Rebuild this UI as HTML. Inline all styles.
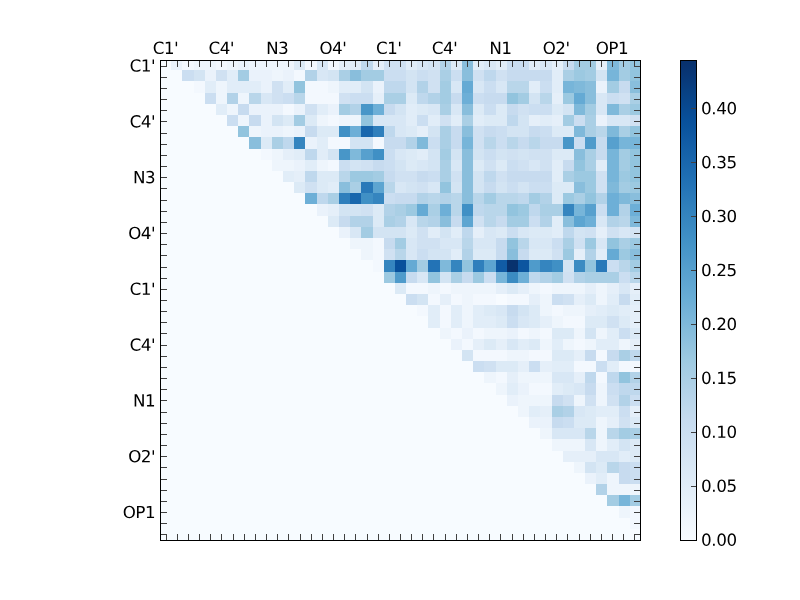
<!DOCTYPE html><html><head><meta charset="utf-8"><style>html,body{margin:0;padding:0;background:#fff;width:800px;height:600px;overflow:hidden;position:relative}</style></head><body><svg width="800" height="600" viewBox="0 0 800 600" style="position:absolute;left:0;top:0"><g shape-rendering="crispEdges"><rect x="160" y="60" width="480" height="480" fill="#f7fbff"/><rect x="171" y="60" width="11" height="10" fill="#eaf2fb"/><rect x="182" y="60" width="12" height="10" fill="#f3f8fe"/><rect x="194" y="60" width="11" height="10" fill="#eef5fc"/><rect x="205" y="60" width="11" height="10" fill="#eef5fc"/><rect x="216" y="60" width="11" height="10" fill="#f3f8fe"/><rect x="227" y="60" width="11" height="10" fill="#eef5fc"/><rect x="238" y="60" width="11" height="10" fill="#eaf2fb"/><rect x="249" y="60" width="12" height="10" fill="#eef5fc"/><rect x="261" y="60" width="11" height="10" fill="#eef5fc"/><rect x="272" y="60" width="11" height="10" fill="#eef5fc"/><rect x="283" y="60" width="11" height="10" fill="#eef5fc"/><rect x="294" y="60" width="11" height="10" fill="#dceaf6"/><rect x="305" y="60" width="12" height="10" fill="#f3f8fe"/><rect x="317" y="60" width="11" height="10" fill="#d8e7f5"/><rect x="328" y="60" width="11" height="10" fill="#f3f8fe"/><rect x="339" y="60" width="11" height="10" fill="#e5eff9"/><rect x="350" y="60" width="11" height="10" fill="#e1edf8"/><rect x="361" y="60" width="12" height="10" fill="#bfd8ed"/><rect x="373" y="60" width="11" height="10" fill="#e5eff9"/><rect x="384" y="60" width="11" height="10" fill="#d0e1f2"/><rect x="395" y="60" width="11" height="10" fill="#d0e1f2"/><rect x="406" y="60" width="11" height="10" fill="#e1edf8"/><rect x="417" y="60" width="11" height="10" fill="#d8e7f5"/><rect x="428" y="60" width="12" height="10" fill="#d3e4f3"/><rect x="440" y="60" width="11" height="10" fill="#b2d2e8"/><rect x="451" y="60" width="11" height="10" fill="#dceaf6"/><rect x="462" y="60" width="11" height="10" fill="#89bedc"/><rect x="473" y="60" width="11" height="10" fill="#e1edf8"/><rect x="484" y="60" width="12" height="10" fill="#d8e7f5"/><rect x="496" y="60" width="11" height="10" fill="#e1edf8"/><rect x="507" y="60" width="11" height="10" fill="#cbdef1"/><rect x="518" y="60" width="11" height="10" fill="#cbdef1"/><rect x="529" y="60" width="11" height="10" fill="#e1edf8"/><rect x="540" y="60" width="12" height="10" fill="#d8e7f5"/><rect x="552" y="60" width="11" height="10" fill="#e5eff9"/><rect x="563" y="60" width="11" height="10" fill="#c7dbef"/><rect x="574" y="60" width="11" height="10" fill="#a3cce3"/><rect x="585" y="60" width="11" height="10" fill="#a3cce3"/><rect x="596" y="60" width="11" height="10" fill="#e5eff9"/><rect x="607" y="60" width="12" height="10" fill="#7fb9da"/><rect x="619" y="60" width="11" height="10" fill="#a3cce3"/><rect x="630" y="60" width="11" height="10" fill="#92c4de"/><rect x="182" y="70" width="12" height="11" fill="#cbdef1"/><rect x="194" y="70" width="11" height="11" fill="#d3e4f3"/><rect x="205" y="70" width="11" height="11" fill="#eaf2fb"/><rect x="216" y="70" width="11" height="11" fill="#d0e1f2"/><rect x="227" y="70" width="11" height="11" fill="#e1edf8"/><rect x="238" y="70" width="11" height="11" fill="#a3cce3"/><rect x="249" y="70" width="12" height="11" fill="#eaf2fb"/><rect x="261" y="70" width="11" height="11" fill="#eaf2fb"/><rect x="272" y="70" width="11" height="11" fill="#eef5fc"/><rect x="283" y="70" width="11" height="11" fill="#eaf2fb"/><rect x="294" y="70" width="11" height="11" fill="#f3f8fe"/><rect x="305" y="70" width="12" height="11" fill="#b2d2e8"/><rect x="317" y="70" width="11" height="11" fill="#d8e7f5"/><rect x="328" y="70" width="11" height="11" fill="#d3e4f3"/><rect x="339" y="70" width="11" height="11" fill="#aacfe5"/><rect x="350" y="70" width="11" height="11" fill="#89bedc"/><rect x="361" y="70" width="12" height="11" fill="#a3cce3"/><rect x="373" y="70" width="11" height="11" fill="#a3cce3"/><rect x="384" y="70" width="11" height="11" fill="#cbdef1"/><rect x="395" y="70" width="11" height="11" fill="#cbdef1"/><rect x="406" y="70" width="11" height="11" fill="#d3e4f3"/><rect x="417" y="70" width="11" height="11" fill="#cbdef1"/><rect x="428" y="70" width="12" height="11" fill="#d0e1f2"/><rect x="440" y="70" width="11" height="11" fill="#aacfe5"/><rect x="451" y="70" width="11" height="11" fill="#cbdef1"/><rect x="462" y="70" width="11" height="11" fill="#89bedc"/><rect x="473" y="70" width="11" height="11" fill="#d0e1f2"/><rect x="484" y="70" width="12" height="11" fill="#bfd8ed"/><rect x="496" y="70" width="11" height="11" fill="#d0e1f2"/><rect x="507" y="70" width="11" height="11" fill="#c7dbef"/><rect x="518" y="70" width="11" height="11" fill="#c7dbef"/><rect x="529" y="70" width="11" height="11" fill="#c7dbef"/><rect x="540" y="70" width="12" height="11" fill="#c7dbef"/><rect x="552" y="70" width="11" height="11" fill="#e1edf8"/><rect x="563" y="70" width="11" height="11" fill="#aacfe5"/><rect x="574" y="70" width="11" height="11" fill="#9cc9e1"/><rect x="585" y="70" width="11" height="11" fill="#a3cce3"/><rect x="596" y="70" width="11" height="11" fill="#d3e4f3"/><rect x="607" y="70" width="12" height="11" fill="#77b5d9"/><rect x="619" y="70" width="11" height="11" fill="#a3cce3"/><rect x="630" y="70" width="11" height="11" fill="#92c4de"/><rect x="194" y="81" width="11" height="12" fill="#f3f8fe"/><rect x="205" y="81" width="11" height="12" fill="#e1edf8"/><rect x="216" y="81" width="11" height="12" fill="#eef5fc"/><rect x="227" y="81" width="11" height="12" fill="#e1edf8"/><rect x="238" y="81" width="11" height="12" fill="#e1edf8"/><rect x="249" y="81" width="12" height="12" fill="#e1edf8"/><rect x="261" y="81" width="11" height="12" fill="#eaf2fb"/><rect x="272" y="81" width="11" height="12" fill="#d0e1f2"/><rect x="283" y="81" width="11" height="12" fill="#e1edf8"/><rect x="294" y="81" width="11" height="12" fill="#92c4de"/><rect x="305" y="81" width="12" height="12" fill="#f3f8fe"/><rect x="317" y="81" width="11" height="12" fill="#f3f8fe"/><rect x="328" y="81" width="11" height="12" fill="#eef5fc"/><rect x="339" y="81" width="11" height="12" fill="#e1edf8"/><rect x="350" y="81" width="11" height="12" fill="#e1edf8"/><rect x="361" y="81" width="12" height="12" fill="#d3e4f3"/><rect x="373" y="81" width="11" height="12" fill="#eaf2fb"/><rect x="384" y="81" width="11" height="12" fill="#bfd8ed"/><rect x="395" y="81" width="11" height="12" fill="#bfd8ed"/><rect x="406" y="81" width="11" height="12" fill="#d3e4f3"/><rect x="417" y="81" width="11" height="12" fill="#b2d2e8"/><rect x="428" y="81" width="12" height="12" fill="#d0e1f2"/><rect x="440" y="81" width="11" height="12" fill="#a3cce3"/><rect x="451" y="81" width="11" height="12" fill="#d8e7f5"/><rect x="462" y="81" width="11" height="12" fill="#65aad4"/><rect x="473" y="81" width="11" height="12" fill="#d8e7f5"/><rect x="484" y="81" width="12" height="12" fill="#cbdef1"/><rect x="496" y="81" width="11" height="12" fill="#d8e7f5"/><rect x="507" y="81" width="11" height="12" fill="#b9d6ea"/><rect x="518" y="81" width="11" height="12" fill="#b9d6ea"/><rect x="529" y="81" width="11" height="12" fill="#e1edf8"/><rect x="540" y="81" width="12" height="12" fill="#cbdef1"/><rect x="552" y="81" width="11" height="12" fill="#e1edf8"/><rect x="563" y="81" width="11" height="12" fill="#77b5d9"/><rect x="574" y="81" width="11" height="12" fill="#7fb9da"/><rect x="585" y="81" width="11" height="12" fill="#89bedc"/><rect x="596" y="81" width="11" height="12" fill="#eaf2fb"/><rect x="607" y="81" width="12" height="12" fill="#a3cce3"/><rect x="619" y="81" width="11" height="12" fill="#c7dbef"/><rect x="630" y="81" width="11" height="12" fill="#89bedc"/><rect x="205" y="93" width="11" height="11" fill="#cbdef1"/><rect x="216" y="93" width="11" height="11" fill="#eef5fc"/><rect x="227" y="93" width="11" height="11" fill="#b2d2e8"/><rect x="238" y="93" width="11" height="11" fill="#eef5fc"/><rect x="249" y="93" width="12" height="11" fill="#b9d6ea"/><rect x="261" y="93" width="11" height="11" fill="#d8e7f5"/><rect x="272" y="93" width="11" height="11" fill="#d0e1f2"/><rect x="283" y="93" width="11" height="11" fill="#cbdef1"/><rect x="294" y="93" width="11" height="11" fill="#b9d6ea"/><rect x="305" y="93" width="12" height="11" fill="#f3f8fe"/><rect x="317" y="93" width="11" height="11" fill="#f3f8fe"/><rect x="328" y="93" width="11" height="11" fill="#f3f8fe"/><rect x="339" y="93" width="11" height="11" fill="#d0e1f2"/><rect x="350" y="93" width="11" height="11" fill="#cbdef1"/><rect x="361" y="93" width="12" height="11" fill="#cbdef1"/><rect x="373" y="93" width="11" height="11" fill="#e5eff9"/><rect x="384" y="93" width="11" height="11" fill="#aacfe5"/><rect x="395" y="93" width="11" height="11" fill="#aacfe5"/><rect x="406" y="93" width="11" height="11" fill="#dceaf6"/><rect x="417" y="93" width="11" height="11" fill="#bfd8ed"/><rect x="428" y="93" width="12" height="11" fill="#b2d2e8"/><rect x="440" y="93" width="11" height="11" fill="#a3cce3"/><rect x="451" y="93" width="11" height="11" fill="#c7dbef"/><rect x="462" y="93" width="11" height="11" fill="#6dafd7"/><rect x="473" y="93" width="11" height="11" fill="#cbdef1"/><rect x="484" y="93" width="12" height="11" fill="#c7dbef"/><rect x="496" y="93" width="11" height="11" fill="#c7dbef"/><rect x="507" y="93" width="11" height="11" fill="#92c4de"/><rect x="518" y="93" width="11" height="11" fill="#a3cce3"/><rect x="529" y="93" width="11" height="11" fill="#d3e4f3"/><rect x="540" y="93" width="12" height="11" fill="#b9d6ea"/><rect x="552" y="93" width="11" height="11" fill="#e5eff9"/><rect x="563" y="93" width="11" height="11" fill="#9cc9e1"/><rect x="574" y="93" width="11" height="11" fill="#65aad4"/><rect x="585" y="93" width="11" height="11" fill="#89bedc"/><rect x="596" y="93" width="11" height="11" fill="#d8e7f5"/><rect x="607" y="93" width="12" height="11" fill="#cbdef1"/><rect x="619" y="93" width="11" height="11" fill="#d0e1f2"/><rect x="630" y="93" width="11" height="11" fill="#aacfe5"/><rect x="216" y="104" width="11" height="11" fill="#e1edf8"/><rect x="227" y="104" width="11" height="11" fill="#eef5fc"/><rect x="238" y="104" width="11" height="11" fill="#c7dbef"/><rect x="249" y="104" width="12" height="11" fill="#eaf2fb"/><rect x="261" y="104" width="11" height="11" fill="#eaf2fb"/><rect x="272" y="104" width="11" height="11" fill="#eaf2fb"/><rect x="283" y="104" width="11" height="11" fill="#f3f8fe"/><rect x="294" y="104" width="11" height="11" fill="#eaf2fb"/><rect x="305" y="104" width="12" height="11" fill="#d0e1f2"/><rect x="317" y="104" width="11" height="11" fill="#e1edf8"/><rect x="328" y="104" width="11" height="11" fill="#eaf2fb"/><rect x="339" y="104" width="11" height="11" fill="#a3cce3"/><rect x="350" y="104" width="11" height="11" fill="#b2d2e8"/><rect x="361" y="104" width="12" height="11" fill="#4896c8"/><rect x="373" y="104" width="11" height="11" fill="#6dafd7"/><rect x="384" y="104" width="11" height="11" fill="#c7dbef"/><rect x="395" y="104" width="11" height="11" fill="#d3e4f3"/><rect x="406" y="104" width="11" height="11" fill="#e1edf8"/><rect x="417" y="104" width="11" height="11" fill="#dceaf6"/><rect x="428" y="104" width="12" height="11" fill="#d8e7f5"/><rect x="440" y="104" width="11" height="11" fill="#aacfe5"/><rect x="451" y="104" width="11" height="11" fill="#d8e7f5"/><rect x="462" y="104" width="11" height="11" fill="#89bedc"/><rect x="473" y="104" width="11" height="11" fill="#dceaf6"/><rect x="484" y="104" width="12" height="11" fill="#cbdef1"/><rect x="496" y="104" width="11" height="11" fill="#dceaf6"/><rect x="507" y="104" width="11" height="11" fill="#c7dbef"/><rect x="518" y="104" width="11" height="11" fill="#d0e1f2"/><rect x="529" y="104" width="11" height="11" fill="#cbdef1"/><rect x="540" y="104" width="12" height="11" fill="#cbdef1"/><rect x="552" y="104" width="11" height="11" fill="#dceaf6"/><rect x="563" y="104" width="11" height="11" fill="#d3e4f3"/><rect x="574" y="104" width="11" height="11" fill="#7fb9da"/><rect x="585" y="104" width="11" height="11" fill="#a3cce3"/><rect x="596" y="104" width="11" height="11" fill="#d8e7f5"/><rect x="607" y="104" width="12" height="11" fill="#7fb9da"/><rect x="619" y="104" width="11" height="11" fill="#aacfe5"/><rect x="630" y="104" width="11" height="11" fill="#9cc9e1"/><rect x="227" y="115" width="11" height="11" fill="#cbdef1"/><rect x="238" y="115" width="11" height="11" fill="#eef5fc"/><rect x="249" y="115" width="12" height="11" fill="#c7dbef"/><rect x="261" y="115" width="11" height="11" fill="#eaf2fb"/><rect x="272" y="115" width="11" height="11" fill="#d3e4f3"/><rect x="283" y="115" width="11" height="11" fill="#dceaf6"/><rect x="294" y="115" width="11" height="11" fill="#a3cce3"/><rect x="305" y="115" width="12" height="11" fill="#dceaf6"/><rect x="317" y="115" width="11" height="11" fill="#eef5fc"/><rect x="328" y="115" width="11" height="11" fill="#f3f8fe"/><rect x="339" y="115" width="11" height="11" fill="#eef5fc"/><rect x="350" y="115" width="11" height="11" fill="#eef5fc"/><rect x="361" y="115" width="12" height="11" fill="#92c4de"/><rect x="373" y="115" width="11" height="11" fill="#d8e7f5"/><rect x="384" y="115" width="11" height="11" fill="#d8e7f5"/><rect x="395" y="115" width="11" height="11" fill="#d8e7f5"/><rect x="406" y="115" width="11" height="11" fill="#e1edf8"/><rect x="417" y="115" width="11" height="11" fill="#cbdef1"/><rect x="428" y="115" width="12" height="11" fill="#e1edf8"/><rect x="440" y="115" width="11" height="11" fill="#d0e1f2"/><rect x="451" y="115" width="11" height="11" fill="#e1edf8"/><rect x="462" y="115" width="11" height="11" fill="#aacfe5"/><rect x="473" y="115" width="11" height="11" fill="#e1edf8"/><rect x="484" y="115" width="12" height="11" fill="#dceaf6"/><rect x="496" y="115" width="11" height="11" fill="#dceaf6"/><rect x="507" y="115" width="11" height="11" fill="#bfd8ed"/><rect x="518" y="115" width="11" height="11" fill="#d3e4f3"/><rect x="529" y="115" width="11" height="11" fill="#e5eff9"/><rect x="540" y="115" width="12" height="11" fill="#e1edf8"/><rect x="552" y="115" width="11" height="11" fill="#e5eff9"/><rect x="563" y="115" width="11" height="11" fill="#a3cce3"/><rect x="574" y="115" width="11" height="11" fill="#cbdef1"/><rect x="585" y="115" width="11" height="11" fill="#aacfe5"/><rect x="596" y="115" width="11" height="11" fill="#eaf2fb"/><rect x="607" y="115" width="12" height="11" fill="#d8e7f5"/><rect x="619" y="115" width="11" height="11" fill="#d8e7f5"/><rect x="630" y="115" width="11" height="11" fill="#d0e1f2"/><rect x="238" y="126" width="11" height="11" fill="#92c4de"/><rect x="249" y="126" width="12" height="11" fill="#eef5fc"/><rect x="261" y="126" width="11" height="11" fill="#eaf2fb"/><rect x="272" y="126" width="11" height="11" fill="#eaf2fb"/><rect x="283" y="126" width="11" height="11" fill="#eef5fc"/><rect x="294" y="126" width="11" height="11" fill="#eaf2fb"/><rect x="305" y="126" width="12" height="11" fill="#c7dbef"/><rect x="317" y="126" width="11" height="11" fill="#dceaf6"/><rect x="328" y="126" width="11" height="11" fill="#dceaf6"/><rect x="339" y="126" width="11" height="11" fill="#4090c5"/><rect x="350" y="126" width="11" height="11" fill="#6dafd7"/><rect x="361" y="126" width="12" height="11" fill="#1967ad"/><rect x="373" y="126" width="11" height="11" fill="#2f7fbc"/><rect x="384" y="126" width="11" height="11" fill="#bfd8ed"/><rect x="395" y="126" width="11" height="11" fill="#d8e7f5"/><rect x="406" y="126" width="11" height="11" fill="#dceaf6"/><rect x="417" y="126" width="11" height="11" fill="#e5eff9"/><rect x="428" y="126" width="12" height="11" fill="#d3e4f3"/><rect x="440" y="126" width="11" height="11" fill="#aacfe5"/><rect x="451" y="126" width="11" height="11" fill="#c7dbef"/><rect x="462" y="126" width="11" height="11" fill="#89bedc"/><rect x="473" y="126" width="11" height="11" fill="#d0e1f2"/><rect x="484" y="126" width="12" height="11" fill="#c7dbef"/><rect x="496" y="126" width="11" height="11" fill="#cbdef1"/><rect x="507" y="126" width="11" height="11" fill="#d3e4f3"/><rect x="518" y="126" width="11" height="11" fill="#d3e4f3"/><rect x="529" y="126" width="11" height="11" fill="#c7dbef"/><rect x="540" y="126" width="12" height="11" fill="#cbdef1"/><rect x="552" y="126" width="11" height="11" fill="#dceaf6"/><rect x="563" y="126" width="11" height="11" fill="#dceaf6"/><rect x="574" y="126" width="11" height="11" fill="#7fb9da"/><rect x="585" y="126" width="11" height="11" fill="#aacfe5"/><rect x="596" y="126" width="11" height="11" fill="#b9d6ea"/><rect x="607" y="126" width="12" height="11" fill="#7fb9da"/><rect x="619" y="126" width="11" height="11" fill="#aacfe5"/><rect x="630" y="126" width="11" height="11" fill="#92c4de"/><rect x="249" y="137" width="12" height="12" fill="#89bedc"/><rect x="261" y="137" width="11" height="12" fill="#dceaf6"/><rect x="272" y="137" width="11" height="12" fill="#aacfe5"/><rect x="283" y="137" width="11" height="12" fill="#bfd8ed"/><rect x="294" y="137" width="11" height="12" fill="#3585bf"/><rect x="305" y="137" width="12" height="12" fill="#eaf2fb"/><rect x="317" y="137" width="11" height="12" fill="#e1edf8"/><rect x="328" y="137" width="11" height="12" fill="#f3f8fe"/><rect x="339" y="137" width="11" height="12" fill="#f3f8fe"/><rect x="350" y="137" width="11" height="12" fill="#d3e4f3"/><rect x="361" y="137" width="12" height="12" fill="#d3e4f3"/><rect x="373" y="137" width="11" height="12" fill="#f3f8fe"/><rect x="384" y="137" width="11" height="12" fill="#c7dbef"/><rect x="395" y="137" width="11" height="12" fill="#c7dbef"/><rect x="406" y="137" width="11" height="12" fill="#b2d2e8"/><rect x="417" y="137" width="11" height="12" fill="#7fb9da"/><rect x="428" y="137" width="12" height="12" fill="#cbdef1"/><rect x="440" y="137" width="11" height="12" fill="#aacfe5"/><rect x="451" y="137" width="11" height="12" fill="#c7dbef"/><rect x="462" y="137" width="11" height="12" fill="#77b5d9"/><rect x="473" y="137" width="11" height="12" fill="#d0e1f2"/><rect x="484" y="137" width="12" height="12" fill="#b9d6ea"/><rect x="496" y="137" width="11" height="12" fill="#cbdef1"/><rect x="507" y="137" width="11" height="12" fill="#b9d6ea"/><rect x="518" y="137" width="11" height="12" fill="#c7dbef"/><rect x="529" y="137" width="11" height="12" fill="#b9d6ea"/><rect x="540" y="137" width="12" height="12" fill="#c7dbef"/><rect x="552" y="137" width="11" height="12" fill="#c7dbef"/><rect x="563" y="137" width="11" height="12" fill="#4896c8"/><rect x="574" y="137" width="11" height="12" fill="#cbdef1"/><rect x="585" y="137" width="11" height="12" fill="#4f9bcb"/><rect x="596" y="137" width="11" height="12" fill="#c7dbef"/><rect x="607" y="137" width="12" height="12" fill="#57a0ce"/><rect x="619" y="137" width="11" height="12" fill="#77b5d9"/><rect x="630" y="137" width="11" height="12" fill="#77b5d9"/><rect x="261" y="149" width="11" height="11" fill="#f3f8fe"/><rect x="272" y="149" width="11" height="11" fill="#eef5fc"/><rect x="283" y="149" width="11" height="11" fill="#e5eff9"/><rect x="294" y="149" width="11" height="11" fill="#e1edf8"/><rect x="305" y="149" width="12" height="11" fill="#bfd8ed"/><rect x="317" y="149" width="11" height="11" fill="#e1edf8"/><rect x="328" y="149" width="11" height="11" fill="#d3e4f3"/><rect x="339" y="149" width="11" height="11" fill="#4896c8"/><rect x="350" y="149" width="11" height="11" fill="#7fb9da"/><rect x="361" y="149" width="12" height="11" fill="#57a0ce"/><rect x="373" y="149" width="11" height="11" fill="#4090c5"/><rect x="384" y="149" width="11" height="11" fill="#cbdef1"/><rect x="395" y="149" width="11" height="11" fill="#d8e7f5"/><rect x="406" y="149" width="11" height="11" fill="#dceaf6"/><rect x="417" y="149" width="11" height="11" fill="#e1edf8"/><rect x="428" y="149" width="12" height="11" fill="#d3e4f3"/><rect x="440" y="149" width="11" height="11" fill="#a3cce3"/><rect x="451" y="149" width="11" height="11" fill="#d3e4f3"/><rect x="462" y="149" width="11" height="11" fill="#89bedc"/><rect x="473" y="149" width="11" height="11" fill="#d3e4f3"/><rect x="484" y="149" width="12" height="11" fill="#cbdef1"/><rect x="496" y="149" width="11" height="11" fill="#d3e4f3"/><rect x="507" y="149" width="11" height="11" fill="#d0e1f2"/><rect x="518" y="149" width="11" height="11" fill="#d3e4f3"/><rect x="529" y="149" width="11" height="11" fill="#d0e1f2"/><rect x="540" y="149" width="12" height="11" fill="#d0e1f2"/><rect x="552" y="149" width="11" height="11" fill="#dceaf6"/><rect x="563" y="149" width="11" height="11" fill="#dceaf6"/><rect x="574" y="149" width="11" height="11" fill="#89bedc"/><rect x="585" y="149" width="11" height="11" fill="#aacfe5"/><rect x="596" y="149" width="11" height="11" fill="#c7dbef"/><rect x="607" y="149" width="12" height="11" fill="#77b5d9"/><rect x="619" y="149" width="11" height="11" fill="#a3cce3"/><rect x="630" y="149" width="11" height="11" fill="#92c4de"/><rect x="272" y="160" width="11" height="11" fill="#eef5fc"/><rect x="283" y="160" width="11" height="11" fill="#eef5fc"/><rect x="294" y="160" width="11" height="11" fill="#eaf2fb"/><rect x="305" y="160" width="12" height="11" fill="#e1edf8"/><rect x="317" y="160" width="11" height="11" fill="#eef5fc"/><rect x="328" y="160" width="11" height="11" fill="#f3f8fe"/><rect x="339" y="160" width="11" height="11" fill="#cbdef1"/><rect x="350" y="160" width="11" height="11" fill="#d3e4f3"/><rect x="361" y="160" width="12" height="11" fill="#d0e1f2"/><rect x="373" y="160" width="11" height="11" fill="#c7dbef"/><rect x="384" y="160" width="11" height="11" fill="#cbdef1"/><rect x="395" y="160" width="11" height="11" fill="#d3e4f3"/><rect x="406" y="160" width="11" height="11" fill="#dceaf6"/><rect x="417" y="160" width="11" height="11" fill="#d8e7f5"/><rect x="428" y="160" width="12" height="11" fill="#d3e4f3"/><rect x="440" y="160" width="11" height="11" fill="#aacfe5"/><rect x="451" y="160" width="11" height="11" fill="#d8e7f5"/><rect x="462" y="160" width="11" height="11" fill="#89bedc"/><rect x="473" y="160" width="11" height="11" fill="#dceaf6"/><rect x="484" y="160" width="12" height="11" fill="#d0e1f2"/><rect x="496" y="160" width="11" height="11" fill="#dceaf6"/><rect x="507" y="160" width="11" height="11" fill="#cbdef1"/><rect x="518" y="160" width="11" height="11" fill="#d0e1f2"/><rect x="529" y="160" width="11" height="11" fill="#d8e7f5"/><rect x="540" y="160" width="12" height="11" fill="#d0e1f2"/><rect x="552" y="160" width="11" height="11" fill="#e1edf8"/><rect x="563" y="160" width="11" height="11" fill="#c7dbef"/><rect x="574" y="160" width="11" height="11" fill="#92c4de"/><rect x="585" y="160" width="11" height="11" fill="#aacfe5"/><rect x="596" y="160" width="11" height="11" fill="#e1edf8"/><rect x="607" y="160" width="12" height="11" fill="#77b5d9"/><rect x="619" y="160" width="11" height="11" fill="#a3cce3"/><rect x="630" y="160" width="11" height="11" fill="#92c4de"/><rect x="283" y="171" width="11" height="11" fill="#e1edf8"/><rect x="294" y="171" width="11" height="11" fill="#e5eff9"/><rect x="305" y="171" width="12" height="11" fill="#bfd8ed"/><rect x="317" y="171" width="11" height="11" fill="#dceaf6"/><rect x="328" y="171" width="11" height="11" fill="#dceaf6"/><rect x="339" y="171" width="11" height="11" fill="#b9d6ea"/><rect x="350" y="171" width="11" height="11" fill="#9cc9e1"/><rect x="361" y="171" width="12" height="11" fill="#9cc9e1"/><rect x="373" y="171" width="11" height="11" fill="#a3cce3"/><rect x="384" y="171" width="11" height="11" fill="#c7dbef"/><rect x="395" y="171" width="11" height="11" fill="#d0e1f2"/><rect x="406" y="171" width="11" height="11" fill="#d0e1f2"/><rect x="417" y="171" width="11" height="11" fill="#c7dbef"/><rect x="428" y="171" width="12" height="11" fill="#cbdef1"/><rect x="440" y="171" width="11" height="11" fill="#aacfe5"/><rect x="451" y="171" width="11" height="11" fill="#d0e1f2"/><rect x="462" y="171" width="11" height="11" fill="#89bedc"/><rect x="473" y="171" width="11" height="11" fill="#d3e4f3"/><rect x="484" y="171" width="12" height="11" fill="#bfd8ed"/><rect x="496" y="171" width="11" height="11" fill="#d0e1f2"/><rect x="507" y="171" width="11" height="11" fill="#c7dbef"/><rect x="518" y="171" width="11" height="11" fill="#c7dbef"/><rect x="529" y="171" width="11" height="11" fill="#c7dbef"/><rect x="540" y="171" width="12" height="11" fill="#c7dbef"/><rect x="552" y="171" width="11" height="11" fill="#e1edf8"/><rect x="563" y="171" width="11" height="11" fill="#aacfe5"/><rect x="574" y="171" width="11" height="11" fill="#9cc9e1"/><rect x="585" y="171" width="11" height="11" fill="#9cc9e1"/><rect x="596" y="171" width="11" height="11" fill="#d0e1f2"/><rect x="607" y="171" width="12" height="11" fill="#77b5d9"/><rect x="619" y="171" width="11" height="11" fill="#9cc9e1"/><rect x="630" y="171" width="11" height="11" fill="#92c4de"/><rect x="294" y="182" width="11" height="11" fill="#dceaf6"/><rect x="305" y="182" width="12" height="11" fill="#d0e1f2"/><rect x="317" y="182" width="11" height="11" fill="#dceaf6"/><rect x="328" y="182" width="11" height="11" fill="#e1edf8"/><rect x="339" y="182" width="11" height="11" fill="#89bedc"/><rect x="350" y="182" width="11" height="11" fill="#aacfe5"/><rect x="361" y="182" width="12" height="11" fill="#2979b9"/><rect x="373" y="182" width="11" height="11" fill="#5da5d1"/><rect x="384" y="182" width="11" height="11" fill="#b9d6ea"/><rect x="395" y="182" width="11" height="11" fill="#d8e7f5"/><rect x="406" y="182" width="11" height="11" fill="#d3e4f3"/><rect x="417" y="182" width="11" height="11" fill="#d0e1f2"/><rect x="428" y="182" width="12" height="11" fill="#d8e7f5"/><rect x="440" y="182" width="11" height="11" fill="#92c4de"/><rect x="451" y="182" width="11" height="11" fill="#d3e4f3"/><rect x="462" y="182" width="11" height="11" fill="#89bedc"/><rect x="473" y="182" width="11" height="11" fill="#d3e4f3"/><rect x="484" y="182" width="12" height="11" fill="#c7dbef"/><rect x="496" y="182" width="11" height="11" fill="#d3e4f3"/><rect x="507" y="182" width="11" height="11" fill="#cbdef1"/><rect x="518" y="182" width="11" height="11" fill="#d3e4f3"/><rect x="529" y="182" width="11" height="11" fill="#cbdef1"/><rect x="540" y="182" width="12" height="11" fill="#cbdef1"/><rect x="552" y="182" width="11" height="11" fill="#dceaf6"/><rect x="563" y="182" width="11" height="11" fill="#dceaf6"/><rect x="574" y="182" width="11" height="11" fill="#89bedc"/><rect x="585" y="182" width="11" height="11" fill="#9cc9e1"/><rect x="596" y="182" width="11" height="11" fill="#d0e1f2"/><rect x="607" y="182" width="12" height="11" fill="#7fb9da"/><rect x="619" y="182" width="11" height="11" fill="#a3cce3"/><rect x="630" y="182" width="11" height="11" fill="#9cc9e1"/><rect x="305" y="193" width="12" height="11" fill="#6dafd7"/><rect x="317" y="193" width="11" height="11" fill="#bfd8ed"/><rect x="328" y="193" width="11" height="11" fill="#aacfe5"/><rect x="339" y="193" width="11" height="11" fill="#2f7fbc"/><rect x="350" y="193" width="11" height="11" fill="#1967ad"/><rect x="361" y="193" width="12" height="11" fill="#4090c5"/><rect x="373" y="193" width="11" height="11" fill="#3585bf"/><rect x="384" y="193" width="11" height="11" fill="#cbdef1"/><rect x="395" y="193" width="11" height="11" fill="#c7dbef"/><rect x="406" y="193" width="11" height="11" fill="#c7dbef"/><rect x="417" y="193" width="11" height="11" fill="#b2d2e8"/><rect x="428" y="193" width="12" height="11" fill="#b9d6ea"/><rect x="440" y="193" width="11" height="11" fill="#b2d2e8"/><rect x="451" y="193" width="11" height="11" fill="#b9d6ea"/><rect x="462" y="193" width="11" height="11" fill="#89bedc"/><rect x="473" y="193" width="11" height="11" fill="#b9d6ea"/><rect x="484" y="193" width="12" height="11" fill="#a3cce3"/><rect x="496" y="193" width="11" height="11" fill="#b9d6ea"/><rect x="507" y="193" width="11" height="11" fill="#b9d6ea"/><rect x="518" y="193" width="11" height="11" fill="#bfd8ed"/><rect x="529" y="193" width="11" height="11" fill="#a3cce3"/><rect x="540" y="193" width="12" height="11" fill="#b2d2e8"/><rect x="552" y="193" width="11" height="11" fill="#dceaf6"/><rect x="563" y="193" width="11" height="11" fill="#9cc9e1"/><rect x="574" y="193" width="11" height="11" fill="#aacfe5"/><rect x="585" y="193" width="11" height="11" fill="#92c4de"/><rect x="596" y="193" width="11" height="11" fill="#b2d2e8"/><rect x="607" y="193" width="12" height="11" fill="#6dafd7"/><rect x="619" y="193" width="11" height="11" fill="#7fb9da"/><rect x="630" y="193" width="11" height="11" fill="#89bedc"/><rect x="317" y="204" width="11" height="12" fill="#eaf2fb"/><rect x="328" y="204" width="11" height="12" fill="#e5eff9"/><rect x="339" y="204" width="11" height="12" fill="#d3e4f3"/><rect x="350" y="204" width="11" height="12" fill="#d3e4f3"/><rect x="361" y="204" width="12" height="12" fill="#d0e1f2"/><rect x="373" y="204" width="11" height="12" fill="#dceaf6"/><rect x="384" y="204" width="11" height="12" fill="#b2d2e8"/><rect x="395" y="204" width="11" height="12" fill="#aacfe5"/><rect x="406" y="204" width="11" height="12" fill="#9cc9e1"/><rect x="417" y="204" width="11" height="12" fill="#65aad4"/><rect x="428" y="204" width="12" height="12" fill="#aacfe5"/><rect x="440" y="204" width="11" height="12" fill="#6dafd7"/><rect x="451" y="204" width="11" height="12" fill="#b9d6ea"/><rect x="462" y="204" width="11" height="12" fill="#4090c5"/><rect x="473" y="204" width="11" height="12" fill="#bfd8ed"/><rect x="484" y="204" width="12" height="12" fill="#b9d6ea"/><rect x="496" y="204" width="11" height="12" fill="#b9d6ea"/><rect x="507" y="204" width="11" height="12" fill="#92c4de"/><rect x="518" y="204" width="11" height="12" fill="#9cc9e1"/><rect x="529" y="204" width="11" height="12" fill="#bfd8ed"/><rect x="540" y="204" width="12" height="12" fill="#aacfe5"/><rect x="552" y="204" width="11" height="12" fill="#aacfe5"/><rect x="563" y="204" width="11" height="12" fill="#3585bf"/><rect x="574" y="204" width="11" height="12" fill="#77b5d9"/><rect x="585" y="204" width="11" height="12" fill="#57a0ce"/><rect x="596" y="204" width="11" height="12" fill="#cbdef1"/><rect x="607" y="204" width="12" height="12" fill="#6dafd7"/><rect x="619" y="204" width="11" height="12" fill="#b2d2e8"/><rect x="630" y="204" width="11" height="12" fill="#6dafd7"/><rect x="328" y="216" width="11" height="11" fill="#dceaf6"/><rect x="339" y="216" width="11" height="11" fill="#c7dbef"/><rect x="350" y="216" width="11" height="11" fill="#b2d2e8"/><rect x="361" y="216" width="12" height="11" fill="#b2d2e8"/><rect x="373" y="216" width="11" height="11" fill="#dceaf6"/><rect x="384" y="216" width="11" height="11" fill="#aacfe5"/><rect x="395" y="216" width="11" height="11" fill="#b2d2e8"/><rect x="406" y="216" width="11" height="11" fill="#d8e7f5"/><rect x="417" y="216" width="11" height="11" fill="#b9d6ea"/><rect x="428" y="216" width="12" height="11" fill="#b2d2e8"/><rect x="440" y="216" width="11" height="11" fill="#89bedc"/><rect x="451" y="216" width="11" height="11" fill="#c7dbef"/><rect x="462" y="216" width="11" height="11" fill="#5da5d1"/><rect x="473" y="216" width="11" height="11" fill="#d0e1f2"/><rect x="484" y="216" width="12" height="11" fill="#b9d6ea"/><rect x="496" y="216" width="11" height="11" fill="#c7dbef"/><rect x="507" y="216" width="11" height="11" fill="#a3cce3"/><rect x="518" y="216" width="11" height="11" fill="#a3cce3"/><rect x="529" y="216" width="11" height="11" fill="#cbdef1"/><rect x="540" y="216" width="12" height="11" fill="#b2d2e8"/><rect x="552" y="216" width="11" height="11" fill="#e1edf8"/><rect x="563" y="216" width="11" height="11" fill="#89bedc"/><rect x="574" y="216" width="11" height="11" fill="#5da5d1"/><rect x="585" y="216" width="11" height="11" fill="#6dafd7"/><rect x="596" y="216" width="11" height="11" fill="#d8e7f5"/><rect x="607" y="216" width="12" height="11" fill="#b2d2e8"/><rect x="619" y="216" width="11" height="11" fill="#b9d6ea"/><rect x="630" y="216" width="11" height="11" fill="#7fb9da"/><rect x="339" y="227" width="11" height="11" fill="#eaf2fb"/><rect x="350" y="227" width="11" height="11" fill="#d8e7f5"/><rect x="361" y="227" width="12" height="11" fill="#a3cce3"/><rect x="373" y="227" width="11" height="11" fill="#d3e4f3"/><rect x="384" y="227" width="11" height="11" fill="#d3e4f3"/><rect x="395" y="227" width="11" height="11" fill="#d3e4f3"/><rect x="406" y="227" width="11" height="11" fill="#dceaf6"/><rect x="417" y="227" width="11" height="11" fill="#d0e1f2"/><rect x="428" y="227" width="12" height="11" fill="#e1edf8"/><rect x="440" y="227" width="11" height="11" fill="#d3e4f3"/><rect x="451" y="227" width="11" height="11" fill="#e1edf8"/><rect x="462" y="227" width="11" height="11" fill="#bfd8ed"/><rect x="473" y="227" width="11" height="11" fill="#e5eff9"/><rect x="484" y="227" width="12" height="11" fill="#d8e7f5"/><rect x="496" y="227" width="11" height="11" fill="#dceaf6"/><rect x="507" y="227" width="11" height="11" fill="#cbdef1"/><rect x="518" y="227" width="11" height="11" fill="#d8e7f5"/><rect x="529" y="227" width="11" height="11" fill="#dceaf6"/><rect x="540" y="227" width="12" height="11" fill="#dceaf6"/><rect x="552" y="227" width="11" height="11" fill="#e1edf8"/><rect x="563" y="227" width="11" height="11" fill="#bfd8ed"/><rect x="574" y="227" width="11" height="11" fill="#d3e4f3"/><rect x="585" y="227" width="11" height="11" fill="#d0e1f2"/><rect x="596" y="227" width="11" height="11" fill="#e5eff9"/><rect x="607" y="227" width="12" height="11" fill="#d0e1f2"/><rect x="619" y="227" width="11" height="11" fill="#d8e7f5"/><rect x="630" y="227" width="11" height="11" fill="#d3e4f3"/><rect x="350" y="238" width="11" height="11" fill="#eef5fc"/><rect x="361" y="238" width="12" height="11" fill="#eef5fc"/><rect x="373" y="238" width="11" height="11" fill="#f3f8fe"/><rect x="384" y="238" width="11" height="11" fill="#c7dbef"/><rect x="395" y="238" width="11" height="11" fill="#a3cce3"/><rect x="406" y="238" width="11" height="11" fill="#d8e7f5"/><rect x="417" y="238" width="11" height="11" fill="#d0e1f2"/><rect x="428" y="238" width="12" height="11" fill="#d0e1f2"/><rect x="440" y="238" width="11" height="11" fill="#d8e7f5"/><rect x="451" y="238" width="11" height="11" fill="#d8e7f5"/><rect x="462" y="238" width="11" height="11" fill="#b9d6ea"/><rect x="473" y="238" width="11" height="11" fill="#d8e7f5"/><rect x="484" y="238" width="12" height="11" fill="#d8e7f5"/><rect x="496" y="238" width="11" height="11" fill="#c7dbef"/><rect x="507" y="238" width="11" height="11" fill="#92c4de"/><rect x="518" y="238" width="11" height="11" fill="#b9d6ea"/><rect x="529" y="238" width="11" height="11" fill="#d8e7f5"/><rect x="540" y="238" width="12" height="11" fill="#d8e7f5"/><rect x="552" y="238" width="11" height="11" fill="#cbdef1"/><rect x="563" y="238" width="11" height="11" fill="#aacfe5"/><rect x="574" y="238" width="11" height="11" fill="#d0e1f2"/><rect x="585" y="238" width="11" height="11" fill="#9cc9e1"/><rect x="596" y="238" width="11" height="11" fill="#d8e7f5"/><rect x="607" y="238" width="12" height="11" fill="#92c4de"/><rect x="619" y="238" width="11" height="11" fill="#aacfe5"/><rect x="630" y="238" width="11" height="11" fill="#9cc9e1"/><rect x="361" y="249" width="12" height="11" fill="#eef5fc"/><rect x="373" y="249" width="11" height="11" fill="#f3f8fe"/><rect x="384" y="249" width="11" height="11" fill="#d0e1f2"/><rect x="395" y="249" width="11" height="11" fill="#b9d6ea"/><rect x="406" y="249" width="11" height="11" fill="#d8e7f5"/><rect x="417" y="249" width="11" height="11" fill="#cbdef1"/><rect x="428" y="249" width="12" height="11" fill="#d3e4f3"/><rect x="440" y="249" width="11" height="11" fill="#d3e4f3"/><rect x="451" y="249" width="11" height="11" fill="#e1edf8"/><rect x="462" y="249" width="11" height="11" fill="#b2d2e8"/><rect x="473" y="249" width="11" height="11" fill="#dceaf6"/><rect x="484" y="249" width="12" height="11" fill="#dceaf6"/><rect x="496" y="249" width="11" height="11" fill="#c7dbef"/><rect x="507" y="249" width="11" height="11" fill="#89bedc"/><rect x="518" y="249" width="11" height="11" fill="#c7dbef"/><rect x="529" y="249" width="11" height="11" fill="#dceaf6"/><rect x="540" y="249" width="12" height="11" fill="#dceaf6"/><rect x="552" y="249" width="11" height="11" fill="#d0e1f2"/><rect x="563" y="249" width="11" height="11" fill="#9cc9e1"/><rect x="574" y="249" width="11" height="11" fill="#e5eff9"/><rect x="585" y="249" width="11" height="11" fill="#b2d2e8"/><rect x="596" y="249" width="11" height="11" fill="#e1edf8"/><rect x="607" y="249" width="12" height="11" fill="#65aad4"/><rect x="619" y="249" width="11" height="11" fill="#9cc9e1"/><rect x="630" y="249" width="11" height="11" fill="#89bedc"/><rect x="373" y="260" width="11" height="12" fill="#f3f8fe"/><rect x="384" y="260" width="11" height="12" fill="#3585bf"/><rect x="395" y="260" width="11" height="12" fill="#08509b"/><rect x="406" y="260" width="11" height="12" fill="#65aad4"/><rect x="417" y="260" width="11" height="12" fill="#a3cce3"/><rect x="428" y="260" width="12" height="12" fill="#2373b6"/><rect x="440" y="260" width="11" height="12" fill="#7fb9da"/><rect x="451" y="260" width="11" height="12" fill="#3585bf"/><rect x="462" y="260" width="11" height="12" fill="#92c4de"/><rect x="473" y="260" width="11" height="12" fill="#2f7fbc"/><rect x="484" y="260" width="12" height="12" fill="#5da5d1"/><rect x="496" y="260" width="11" height="12" fill="#115ca5"/><rect x="507" y="260" width="11" height="12" fill="#08326e"/><rect x="518" y="260" width="11" height="12" fill="#0c56a0"/><rect x="529" y="260" width="11" height="12" fill="#4f9bcb"/><rect x="540" y="260" width="12" height="12" fill="#3585bf"/><rect x="552" y="260" width="11" height="12" fill="#4090c5"/><rect x="563" y="260" width="11" height="12" fill="#d3e4f3"/><rect x="574" y="260" width="11" height="12" fill="#3b8bc2"/><rect x="585" y="260" width="11" height="12" fill="#92c4de"/><rect x="596" y="260" width="11" height="12" fill="#2979b9"/><rect x="607" y="260" width="12" height="12" fill="#cbdef1"/><rect x="619" y="260" width="11" height="12" fill="#b9d6ea"/><rect x="630" y="260" width="11" height="12" fill="#a3cce3"/><rect x="384" y="272" width="11" height="11" fill="#9cc9e1"/><rect x="395" y="272" width="11" height="11" fill="#4f9bcb"/><rect x="406" y="272" width="11" height="11" fill="#c7dbef"/><rect x="417" y="272" width="11" height="11" fill="#d8e7f5"/><rect x="428" y="272" width="12" height="11" fill="#92c4de"/><rect x="440" y="272" width="11" height="11" fill="#d3e4f3"/><rect x="451" y="272" width="11" height="11" fill="#aacfe5"/><rect x="462" y="272" width="11" height="11" fill="#c7dbef"/><rect x="473" y="272" width="11" height="11" fill="#9cc9e1"/><rect x="484" y="272" width="12" height="11" fill="#cbdef1"/><rect x="496" y="272" width="11" height="11" fill="#77b5d9"/><rect x="507" y="272" width="11" height="11" fill="#3b8bc2"/><rect x="518" y="272" width="11" height="11" fill="#6dafd7"/><rect x="529" y="272" width="11" height="11" fill="#bfd8ed"/><rect x="540" y="272" width="12" height="11" fill="#b2d2e8"/><rect x="552" y="272" width="11" height="11" fill="#a3cce3"/><rect x="563" y="272" width="11" height="11" fill="#d0e1f2"/><rect x="574" y="272" width="11" height="11" fill="#b2d2e8"/><rect x="585" y="272" width="11" height="11" fill="#aacfe5"/><rect x="596" y="272" width="11" height="11" fill="#aacfe5"/><rect x="607" y="272" width="12" height="11" fill="#aacfe5"/><rect x="619" y="272" width="11" height="11" fill="#cbdef1"/><rect x="630" y="272" width="11" height="11" fill="#b9d6ea"/><rect x="395" y="283" width="11" height="11" fill="#dceaf6"/><rect x="406" y="283" width="11" height="11" fill="#f3f8fe"/><rect x="417" y="283" width="11" height="11" fill="#f3f8fe"/><rect x="428" y="283" width="12" height="11" fill="#eef5fc"/><rect x="440" y="283" width="11" height="11" fill="#f3f8fe"/><rect x="451" y="283" width="11" height="11" fill="#eef5fc"/><rect x="462" y="283" width="11" height="11" fill="#eef5fc"/><rect x="473" y="283" width="11" height="11" fill="#eef5fc"/><rect x="484" y="283" width="12" height="11" fill="#eef5fc"/><rect x="496" y="283" width="11" height="11" fill="#e5eff9"/><rect x="507" y="283" width="11" height="11" fill="#dceaf6"/><rect x="518" y="283" width="11" height="11" fill="#e5eff9"/><rect x="529" y="283" width="11" height="11" fill="#eef5fc"/><rect x="540" y="283" width="12" height="11" fill="#f3f8fe"/><rect x="552" y="283" width="11" height="11" fill="#eef5fc"/><rect x="563" y="283" width="11" height="11" fill="#eef5fc"/><rect x="574" y="283" width="11" height="11" fill="#eef5fc"/><rect x="585" y="283" width="11" height="11" fill="#e5eff9"/><rect x="596" y="283" width="11" height="11" fill="#eef5fc"/><rect x="607" y="283" width="12" height="11" fill="#e5eff9"/><rect x="619" y="283" width="11" height="11" fill="#d8e7f5"/><rect x="630" y="283" width="11" height="11" fill="#e5eff9"/><rect x="406" y="294" width="11" height="11" fill="#cbdef1"/><rect x="417" y="294" width="11" height="11" fill="#d3e4f3"/><rect x="428" y="294" width="12" height="11" fill="#f3f8fe"/><rect x="440" y="294" width="11" height="11" fill="#e5eff9"/><rect x="451" y="294" width="11" height="11" fill="#f3f8fe"/><rect x="462" y="294" width="11" height="11" fill="#eef5fc"/><rect x="473" y="294" width="11" height="11" fill="#f3f8fe"/><rect x="484" y="294" width="12" height="11" fill="#f3f8fe"/><rect x="507" y="294" width="11" height="11" fill="#f3f8fe"/><rect x="518" y="294" width="11" height="11" fill="#f3f8fe"/><rect x="529" y="294" width="11" height="11" fill="#e5eff9"/><rect x="540" y="294" width="12" height="11" fill="#eef5fc"/><rect x="552" y="294" width="11" height="11" fill="#cbdef1"/><rect x="563" y="294" width="11" height="11" fill="#d0e1f2"/><rect x="574" y="294" width="11" height="11" fill="#e5eff9"/><rect x="585" y="294" width="11" height="11" fill="#dceaf6"/><rect x="596" y="294" width="11" height="11" fill="#eef5fc"/><rect x="607" y="294" width="12" height="11" fill="#e1edf8"/><rect x="619" y="294" width="11" height="11" fill="#c7dbef"/><rect x="630" y="294" width="11" height="11" fill="#e1edf8"/><rect x="417" y="305" width="11" height="11" fill="#f3f8fe"/><rect x="428" y="305" width="12" height="11" fill="#e1edf8"/><rect x="440" y="305" width="11" height="11" fill="#f3f8fe"/><rect x="451" y="305" width="11" height="11" fill="#e1edf8"/><rect x="462" y="305" width="11" height="11" fill="#eef5fc"/><rect x="473" y="305" width="11" height="11" fill="#e1edf8"/><rect x="484" y="305" width="12" height="11" fill="#dceaf6"/><rect x="496" y="305" width="11" height="11" fill="#d8e7f5"/><rect x="507" y="305" width="11" height="11" fill="#c7dbef"/><rect x="518" y="305" width="11" height="11" fill="#d3e4f3"/><rect x="529" y="305" width="11" height="11" fill="#dceaf6"/><rect x="540" y="305" width="12" height="11" fill="#eef5fc"/><rect x="552" y="305" width="11" height="11" fill="#f3f8fe"/><rect x="563" y="305" width="11" height="11" fill="#eef5fc"/><rect x="574" y="305" width="11" height="11" fill="#eef5fc"/><rect x="585" y="305" width="11" height="11" fill="#e5eff9"/><rect x="596" y="305" width="11" height="11" fill="#e1edf8"/><rect x="607" y="305" width="12" height="11" fill="#dceaf6"/><rect x="619" y="305" width="11" height="11" fill="#e1edf8"/><rect x="630" y="305" width="11" height="11" fill="#e5eff9"/><rect x="428" y="316" width="12" height="12" fill="#e1edf8"/><rect x="440" y="316" width="11" height="12" fill="#f3f8fe"/><rect x="451" y="316" width="11" height="12" fill="#e1edf8"/><rect x="462" y="316" width="11" height="12" fill="#eef5fc"/><rect x="473" y="316" width="11" height="12" fill="#e1edf8"/><rect x="484" y="316" width="12" height="12" fill="#e1edf8"/><rect x="496" y="316" width="11" height="12" fill="#dceaf6"/><rect x="507" y="316" width="11" height="12" fill="#cbdef1"/><rect x="518" y="316" width="11" height="12" fill="#d8e7f5"/><rect x="529" y="316" width="11" height="12" fill="#dceaf6"/><rect x="540" y="316" width="12" height="12" fill="#e5eff9"/><rect x="552" y="316" width="11" height="12" fill="#eef5fc"/><rect x="563" y="316" width="11" height="12" fill="#f3f8fe"/><rect x="574" y="316" width="11" height="12" fill="#f3f8fe"/><rect x="585" y="316" width="11" height="12" fill="#dceaf6"/><rect x="596" y="316" width="11" height="12" fill="#dceaf6"/><rect x="607" y="316" width="12" height="12" fill="#d0e1f2"/><rect x="619" y="316" width="11" height="12" fill="#dceaf6"/><rect x="630" y="316" width="11" height="12" fill="#e5eff9"/><rect x="440" y="328" width="11" height="11" fill="#eef5fc"/><rect x="451" y="328" width="11" height="11" fill="#f3f8fe"/><rect x="462" y="328" width="11" height="11" fill="#eaf2fb"/><rect x="473" y="328" width="11" height="11" fill="#f3f8fe"/><rect x="484" y="328" width="12" height="11" fill="#eef5fc"/><rect x="496" y="328" width="11" height="11" fill="#eef5fc"/><rect x="507" y="328" width="11" height="11" fill="#eaf2fb"/><rect x="518" y="328" width="11" height="11" fill="#f3f8fe"/><rect x="529" y="328" width="11" height="11" fill="#eef5fc"/><rect x="540" y="328" width="12" height="11" fill="#f3f8fe"/><rect x="552" y="328" width="11" height="11" fill="#dceaf6"/><rect x="563" y="328" width="11" height="11" fill="#dceaf6"/><rect x="574" y="328" width="11" height="11" fill="#eef5fc"/><rect x="585" y="328" width="11" height="11" fill="#d3e4f3"/><rect x="596" y="328" width="11" height="11" fill="#eef5fc"/><rect x="607" y="328" width="12" height="11" fill="#e1edf8"/><rect x="619" y="328" width="11" height="11" fill="#cbdef1"/><rect x="630" y="328" width="11" height="11" fill="#dceaf6"/><rect x="451" y="339" width="11" height="11" fill="#eaf2fb"/><rect x="462" y="339" width="11" height="11" fill="#f3f8fe"/><rect x="473" y="339" width="11" height="11" fill="#e5eff9"/><rect x="484" y="339" width="12" height="11" fill="#dceaf6"/><rect x="496" y="339" width="11" height="11" fill="#e5eff9"/><rect x="507" y="339" width="11" height="11" fill="#d8e7f5"/><rect x="518" y="339" width="11" height="11" fill="#e1edf8"/><rect x="529" y="339" width="11" height="11" fill="#dceaf6"/><rect x="540" y="339" width="12" height="11" fill="#eef5fc"/><rect x="552" y="339" width="11" height="11" fill="#e1edf8"/><rect x="563" y="339" width="11" height="11" fill="#eef5fc"/><rect x="574" y="339" width="11" height="11" fill="#f3f8fe"/><rect x="585" y="339" width="11" height="11" fill="#eef5fc"/><rect x="596" y="339" width="11" height="11" fill="#e1edf8"/><rect x="607" y="339" width="12" height="11" fill="#e1edf8"/><rect x="619" y="339" width="11" height="11" fill="#eef5fc"/><rect x="630" y="339" width="11" height="11" fill="#e5eff9"/><rect x="462" y="350" width="11" height="11" fill="#d3e4f3"/><rect x="473" y="350" width="11" height="11" fill="#f3f8fe"/><rect x="484" y="350" width="12" height="11" fill="#f3f8fe"/><rect x="496" y="350" width="11" height="11" fill="#f3f8fe"/><rect x="507" y="350" width="11" height="11" fill="#eef5fc"/><rect x="518" y="350" width="11" height="11" fill="#eef5fc"/><rect x="529" y="350" width="11" height="11" fill="#f3f8fe"/><rect x="540" y="350" width="12" height="11" fill="#f3f8fe"/><rect x="552" y="350" width="11" height="11" fill="#dceaf6"/><rect x="563" y="350" width="11" height="11" fill="#dceaf6"/><rect x="574" y="350" width="11" height="11" fill="#e5eff9"/><rect x="585" y="350" width="11" height="11" fill="#c7dbef"/><rect x="596" y="350" width="11" height="11" fill="#f3f8fe"/><rect x="607" y="350" width="12" height="11" fill="#c7dbef"/><rect x="619" y="350" width="11" height="11" fill="#aacfe5"/><rect x="630" y="350" width="11" height="11" fill="#bfd8ed"/><rect x="473" y="361" width="11" height="11" fill="#cbdef1"/><rect x="484" y="361" width="12" height="11" fill="#d0e1f2"/><rect x="496" y="361" width="11" height="11" fill="#dceaf6"/><rect x="507" y="361" width="11" height="11" fill="#dceaf6"/><rect x="518" y="361" width="11" height="11" fill="#e5eff9"/><rect x="529" y="361" width="11" height="11" fill="#cbdef1"/><rect x="540" y="361" width="12" height="11" fill="#e5eff9"/><rect x="552" y="361" width="11" height="11" fill="#e1edf8"/><rect x="563" y="361" width="11" height="11" fill="#e1edf8"/><rect x="574" y="361" width="11" height="11" fill="#f3f8fe"/><rect x="585" y="361" width="11" height="11" fill="#f3f8fe"/><rect x="596" y="361" width="11" height="11" fill="#cbdef1"/><rect x="607" y="361" width="12" height="11" fill="#e1edf8"/><rect x="619" y="361" width="11" height="11" fill="#f3f8fe"/><rect x="630" y="361" width="11" height="11" fill="#f3f8fe"/><rect x="484" y="372" width="12" height="11" fill="#eef5fc"/><rect x="496" y="372" width="11" height="11" fill="#f3f8fe"/><rect x="507" y="372" width="11" height="11" fill="#e5eff9"/><rect x="518" y="372" width="11" height="11" fill="#eef5fc"/><rect x="529" y="372" width="11" height="11" fill="#eef5fc"/><rect x="540" y="372" width="12" height="11" fill="#eef5fc"/><rect x="552" y="372" width="11" height="11" fill="#d8e7f5"/><rect x="563" y="372" width="11" height="11" fill="#d8e7f5"/><rect x="574" y="372" width="11" height="11" fill="#e5eff9"/><rect x="585" y="372" width="11" height="11" fill="#bfd8ed"/><rect x="596" y="372" width="11" height="11" fill="#f3f8fe"/><rect x="607" y="372" width="12" height="11" fill="#bfd8ed"/><rect x="619" y="372" width="11" height="11" fill="#92c4de"/><rect x="630" y="372" width="11" height="11" fill="#b2d2e8"/><rect x="496" y="383" width="11" height="12" fill="#eef5fc"/><rect x="507" y="383" width="11" height="12" fill="#e1edf8"/><rect x="518" y="383" width="11" height="12" fill="#eaf2fb"/><rect x="529" y="383" width="11" height="12" fill="#f3f8fe"/><rect x="540" y="383" width="12" height="12" fill="#f3f8fe"/><rect x="552" y="383" width="11" height="12" fill="#e1edf8"/><rect x="563" y="383" width="11" height="12" fill="#dceaf6"/><rect x="574" y="383" width="11" height="12" fill="#d8e7f5"/><rect x="585" y="383" width="11" height="12" fill="#c7dbef"/><rect x="596" y="383" width="11" height="12" fill="#eef5fc"/><rect x="607" y="383" width="12" height="12" fill="#cbdef1"/><rect x="619" y="383" width="11" height="12" fill="#bfd8ed"/><rect x="630" y="383" width="11" height="12" fill="#bfd8ed"/><rect x="507" y="395" width="11" height="11" fill="#eaf2fb"/><rect x="518" y="395" width="11" height="11" fill="#eef5fc"/><rect x="529" y="395" width="11" height="11" fill="#eef5fc"/><rect x="540" y="395" width="12" height="11" fill="#eef5fc"/><rect x="552" y="395" width="11" height="11" fill="#c7dbef"/><rect x="563" y="395" width="11" height="11" fill="#d0e1f2"/><rect x="574" y="395" width="11" height="11" fill="#eef5fc"/><rect x="585" y="395" width="11" height="11" fill="#d0e1f2"/><rect x="596" y="395" width="11" height="11" fill="#eef5fc"/><rect x="607" y="395" width="12" height="11" fill="#d0e1f2"/><rect x="619" y="395" width="11" height="11" fill="#b2d2e8"/><rect x="630" y="395" width="11" height="11" fill="#cbdef1"/><rect x="518" y="406" width="11" height="11" fill="#eef5fc"/><rect x="529" y="406" width="11" height="11" fill="#e1edf8"/><rect x="540" y="406" width="12" height="11" fill="#e5eff9"/><rect x="552" y="406" width="11" height="11" fill="#aacfe5"/><rect x="563" y="406" width="11" height="11" fill="#b2d2e8"/><rect x="574" y="406" width="11" height="11" fill="#d8e7f5"/><rect x="585" y="406" width="11" height="11" fill="#dceaf6"/><rect x="596" y="406" width="11" height="11" fill="#e1edf8"/><rect x="607" y="406" width="12" height="11" fill="#e1edf8"/><rect x="619" y="406" width="11" height="11" fill="#cbdef1"/><rect x="630" y="406" width="11" height="11" fill="#e5eff9"/><rect x="529" y="417" width="11" height="11" fill="#eaf2fb"/><rect x="540" y="417" width="12" height="11" fill="#eaf2fb"/><rect x="552" y="417" width="11" height="11" fill="#c7dbef"/><rect x="563" y="417" width="11" height="11" fill="#cbdef1"/><rect x="574" y="417" width="11" height="11" fill="#dceaf6"/><rect x="585" y="417" width="11" height="11" fill="#dceaf6"/><rect x="596" y="417" width="11" height="11" fill="#eef5fc"/><rect x="607" y="417" width="12" height="11" fill="#e5eff9"/><rect x="619" y="417" width="11" height="11" fill="#d0e1f2"/><rect x="630" y="417" width="11" height="11" fill="#dceaf6"/><rect x="540" y="428" width="12" height="11" fill="#eef5fc"/><rect x="552" y="428" width="11" height="11" fill="#d8e7f5"/><rect x="563" y="428" width="11" height="11" fill="#d8e7f5"/><rect x="574" y="428" width="11" height="11" fill="#d8e7f5"/><rect x="585" y="428" width="11" height="11" fill="#b9d6ea"/><rect x="596" y="428" width="11" height="11" fill="#eef5fc"/><rect x="607" y="428" width="12" height="11" fill="#b9d6ea"/><rect x="619" y="428" width="11" height="11" fill="#a3cce3"/><rect x="630" y="428" width="11" height="11" fill="#aacfe5"/><rect x="552" y="439" width="11" height="12" fill="#eef5fc"/><rect x="563" y="439" width="11" height="12" fill="#eef5fc"/><rect x="574" y="439" width="11" height="12" fill="#eef5fc"/><rect x="585" y="439" width="11" height="12" fill="#d8e7f5"/><rect x="596" y="439" width="11" height="12" fill="#eef5fc"/><rect x="607" y="439" width="12" height="12" fill="#e1edf8"/><rect x="619" y="439" width="11" height="12" fill="#d3e4f3"/><rect x="630" y="439" width="11" height="12" fill="#dceaf6"/><rect x="563" y="451" width="11" height="11" fill="#e5eff9"/><rect x="574" y="451" width="11" height="11" fill="#e5eff9"/><rect x="585" y="451" width="11" height="11" fill="#e5eff9"/><rect x="596" y="451" width="11" height="11" fill="#d8e7f5"/><rect x="607" y="451" width="12" height="11" fill="#d8e7f5"/><rect x="619" y="451" width="11" height="11" fill="#e1edf8"/><rect x="630" y="451" width="11" height="11" fill="#dceaf6"/><rect x="574" y="462" width="11" height="11" fill="#eef5fc"/><rect x="585" y="462" width="11" height="11" fill="#d3e4f3"/><rect x="596" y="462" width="11" height="11" fill="#dceaf6"/><rect x="607" y="462" width="12" height="11" fill="#b9d6ea"/><rect x="619" y="462" width="11" height="11" fill="#c7dbef"/><rect x="630" y="462" width="11" height="11" fill="#cbdef1"/><rect x="585" y="473" width="11" height="11" fill="#eaf2fb"/><rect x="596" y="473" width="11" height="11" fill="#e1edf8"/><rect x="607" y="473" width="12" height="11" fill="#eef5fc"/><rect x="619" y="473" width="11" height="11" fill="#c7dbef"/><rect x="630" y="473" width="11" height="11" fill="#cbdef1"/><rect x="596" y="484" width="11" height="11" fill="#b2d2e8"/><rect x="607" y="484" width="12" height="11" fill="#eef5fc"/><rect x="619" y="484" width="11" height="11" fill="#eef5fc"/><rect x="630" y="484" width="11" height="11" fill="#eef5fc"/><rect x="607" y="495" width="12" height="11" fill="#a3cce3"/><rect x="619" y="495" width="11" height="11" fill="#77b5d9"/><rect x="630" y="495" width="11" height="11" fill="#a3cce3"/><rect x="619" y="506" width="11" height="12" fill="#eef5fc"/><rect x="630" y="506" width="11" height="12" fill="#f3f8fe"/><rect x="630" y="518" width="11" height="11" fill="#f3f8fe"/><g fill="#404040"><rect x="166" y="61" width="1" height="6"/><rect x="166" y="534" width="1" height="6"/><rect x="161" y="66" width="6" height="1"/><rect x="634" y="66" width="6" height="1"/><rect x="177" y="61" width="1" height="6"/><rect x="177" y="534" width="1" height="6"/><rect x="161" y="77" width="6" height="1"/><rect x="634" y="77" width="6" height="1"/><rect x="188" y="61" width="1" height="6"/><rect x="188" y="534" width="1" height="6"/><rect x="161" y="88" width="6" height="1"/><rect x="634" y="88" width="6" height="1"/><rect x="199" y="61" width="1" height="6"/><rect x="199" y="534" width="1" height="6"/><rect x="161" y="99" width="6" height="1"/><rect x="634" y="99" width="6" height="1"/><rect x="210" y="61" width="1" height="6"/><rect x="210" y="534" width="1" height="6"/><rect x="161" y="110" width="6" height="1"/><rect x="634" y="110" width="6" height="1"/><rect x="221" y="61" width="1" height="6"/><rect x="221" y="534" width="1" height="6"/><rect x="161" y="121" width="6" height="1"/><rect x="634" y="121" width="6" height="1"/><rect x="233" y="61" width="1" height="6"/><rect x="233" y="534" width="1" height="6"/><rect x="161" y="133" width="6" height="1"/><rect x="634" y="133" width="6" height="1"/><rect x="244" y="61" width="1" height="6"/><rect x="244" y="534" width="1" height="6"/><rect x="161" y="144" width="6" height="1"/><rect x="634" y="144" width="6" height="1"/><rect x="255" y="61" width="1" height="6"/><rect x="255" y="534" width="1" height="6"/><rect x="161" y="155" width="6" height="1"/><rect x="634" y="155" width="6" height="1"/><rect x="266" y="61" width="1" height="6"/><rect x="266" y="534" width="1" height="6"/><rect x="161" y="166" width="6" height="1"/><rect x="634" y="166" width="6" height="1"/><rect x="277" y="61" width="1" height="6"/><rect x="277" y="534" width="1" height="6"/><rect x="161" y="177" width="6" height="1"/><rect x="634" y="177" width="6" height="1"/><rect x="288" y="61" width="1" height="6"/><rect x="288" y="534" width="1" height="6"/><rect x="161" y="188" width="6" height="1"/><rect x="634" y="188" width="6" height="1"/><rect x="300" y="61" width="1" height="6"/><rect x="300" y="534" width="1" height="6"/><rect x="161" y="200" width="6" height="1"/><rect x="634" y="200" width="6" height="1"/><rect x="311" y="61" width="1" height="6"/><rect x="311" y="534" width="1" height="6"/><rect x="161" y="211" width="6" height="1"/><rect x="634" y="211" width="6" height="1"/><rect x="322" y="61" width="1" height="6"/><rect x="322" y="534" width="1" height="6"/><rect x="161" y="222" width="6" height="1"/><rect x="634" y="222" width="6" height="1"/><rect x="333" y="61" width="1" height="6"/><rect x="333" y="534" width="1" height="6"/><rect x="161" y="233" width="6" height="1"/><rect x="634" y="233" width="6" height="1"/><rect x="344" y="61" width="1" height="6"/><rect x="344" y="534" width="1" height="6"/><rect x="161" y="244" width="6" height="1"/><rect x="634" y="244" width="6" height="1"/><rect x="355" y="61" width="1" height="6"/><rect x="355" y="534" width="1" height="6"/><rect x="161" y="255" width="6" height="1"/><rect x="634" y="255" width="6" height="1"/><rect x="367" y="61" width="1" height="6"/><rect x="367" y="534" width="1" height="6"/><rect x="161" y="267" width="6" height="1"/><rect x="634" y="267" width="6" height="1"/><rect x="378" y="61" width="1" height="6"/><rect x="378" y="534" width="1" height="6"/><rect x="161" y="278" width="6" height="1"/><rect x="634" y="278" width="6" height="1"/><rect x="389" y="61" width="1" height="6"/><rect x="389" y="534" width="1" height="6"/><rect x="161" y="289" width="6" height="1"/><rect x="634" y="289" width="6" height="1"/><rect x="400" y="61" width="1" height="6"/><rect x="400" y="534" width="1" height="6"/><rect x="161" y="300" width="6" height="1"/><rect x="634" y="300" width="6" height="1"/><rect x="411" y="61" width="1" height="6"/><rect x="411" y="534" width="1" height="6"/><rect x="161" y="311" width="6" height="1"/><rect x="634" y="311" width="6" height="1"/><rect x="422" y="61" width="1" height="6"/><rect x="422" y="534" width="1" height="6"/><rect x="161" y="322" width="6" height="1"/><rect x="634" y="322" width="6" height="1"/><rect x="433" y="61" width="1" height="6"/><rect x="433" y="534" width="1" height="6"/><rect x="161" y="333" width="6" height="1"/><rect x="634" y="333" width="6" height="1"/><rect x="445" y="61" width="1" height="6"/><rect x="445" y="534" width="1" height="6"/><rect x="161" y="345" width="6" height="1"/><rect x="634" y="345" width="6" height="1"/><rect x="456" y="61" width="1" height="6"/><rect x="456" y="534" width="1" height="6"/><rect x="161" y="356" width="6" height="1"/><rect x="634" y="356" width="6" height="1"/><rect x="467" y="61" width="1" height="6"/><rect x="467" y="534" width="1" height="6"/><rect x="161" y="367" width="6" height="1"/><rect x="634" y="367" width="6" height="1"/><rect x="478" y="61" width="1" height="6"/><rect x="478" y="534" width="1" height="6"/><rect x="161" y="378" width="6" height="1"/><rect x="634" y="378" width="6" height="1"/><rect x="489" y="61" width="1" height="6"/><rect x="489" y="534" width="1" height="6"/><rect x="161" y="389" width="6" height="1"/><rect x="634" y="389" width="6" height="1"/><rect x="500" y="61" width="1" height="6"/><rect x="500" y="534" width="1" height="6"/><rect x="161" y="400" width="6" height="1"/><rect x="634" y="400" width="6" height="1"/><rect x="512" y="61" width="1" height="6"/><rect x="512" y="534" width="1" height="6"/><rect x="161" y="412" width="6" height="1"/><rect x="634" y="412" width="6" height="1"/><rect x="523" y="61" width="1" height="6"/><rect x="523" y="534" width="1" height="6"/><rect x="161" y="423" width="6" height="1"/><rect x="634" y="423" width="6" height="1"/><rect x="534" y="61" width="1" height="6"/><rect x="534" y="534" width="1" height="6"/><rect x="161" y="434" width="6" height="1"/><rect x="634" y="434" width="6" height="1"/><rect x="545" y="61" width="1" height="6"/><rect x="545" y="534" width="1" height="6"/><rect x="161" y="445" width="6" height="1"/><rect x="634" y="445" width="6" height="1"/><rect x="556" y="61" width="1" height="6"/><rect x="556" y="534" width="1" height="6"/><rect x="161" y="456" width="6" height="1"/><rect x="634" y="456" width="6" height="1"/><rect x="567" y="61" width="1" height="6"/><rect x="567" y="534" width="1" height="6"/><rect x="161" y="467" width="6" height="1"/><rect x="634" y="467" width="6" height="1"/><rect x="579" y="61" width="1" height="6"/><rect x="579" y="534" width="1" height="6"/><rect x="161" y="479" width="6" height="1"/><rect x="634" y="479" width="6" height="1"/><rect x="590" y="61" width="1" height="6"/><rect x="590" y="534" width="1" height="6"/><rect x="161" y="490" width="6" height="1"/><rect x="634" y="490" width="6" height="1"/><rect x="601" y="61" width="1" height="6"/><rect x="601" y="534" width="1" height="6"/><rect x="161" y="501" width="6" height="1"/><rect x="634" y="501" width="6" height="1"/><rect x="612" y="61" width="1" height="6"/><rect x="612" y="534" width="1" height="6"/><rect x="161" y="512" width="6" height="1"/><rect x="634" y="512" width="6" height="1"/><rect x="623" y="61" width="1" height="6"/><rect x="623" y="534" width="1" height="6"/><rect x="161" y="523" width="6" height="1"/><rect x="634" y="523" width="6" height="1"/><rect x="634" y="61" width="1" height="6"/><rect x="634" y="534" width="1" height="6"/><rect x="161" y="534" width="6" height="1"/><rect x="634" y="534" width="6" height="1"/></g><g fill="#000"><rect x="160" y="60" width="481" height="1"/><rect x="160" y="540" width="481" height="1"/><rect x="160" y="60" width="1" height="481"/><rect x="640" y="60" width="1" height="481"/></g><defs><linearGradient id="cb" x1="0" y1="1" x2="0" y2="0"><stop offset="0.0000" stop-color="#f7fbff"/><stop offset="0.0156" stop-color="#f4f9fe"/><stop offset="0.0312" stop-color="#f1f7fd"/><stop offset="0.0469" stop-color="#eef5fc"/><stop offset="0.0625" stop-color="#eaf3fb"/><stop offset="0.0781" stop-color="#e7f1fa"/><stop offset="0.0938" stop-color="#e4eff9"/><stop offset="0.1094" stop-color="#e1edf8"/><stop offset="0.1250" stop-color="#deebf7"/><stop offset="0.1406" stop-color="#dbe9f6"/><stop offset="0.1562" stop-color="#d8e7f5"/><stop offset="0.1719" stop-color="#d5e5f4"/><stop offset="0.1875" stop-color="#d2e3f3"/><stop offset="0.2031" stop-color="#cfe1f2"/><stop offset="0.2188" stop-color="#ccdff1"/><stop offset="0.2344" stop-color="#c9ddf0"/><stop offset="0.2500" stop-color="#c6dbef"/><stop offset="0.2656" stop-color="#c1d9ed"/><stop offset="0.2812" stop-color="#bcd7eb"/><stop offset="0.2969" stop-color="#b7d4ea"/><stop offset="0.3125" stop-color="#b2d2e8"/><stop offset="0.3281" stop-color="#add0e6"/><stop offset="0.3438" stop-color="#a8cee4"/><stop offset="0.3594" stop-color="#a3cce3"/><stop offset="0.3750" stop-color="#9dcae1"/><stop offset="0.3906" stop-color="#97c6df"/><stop offset="0.4062" stop-color="#91c3de"/><stop offset="0.4219" stop-color="#8abfdd"/><stop offset="0.4375" stop-color="#84bcdb"/><stop offset="0.4531" stop-color="#7db8da"/><stop offset="0.4688" stop-color="#77b5d9"/><stop offset="0.4844" stop-color="#71b1d7"/><stop offset="0.5000" stop-color="#6aaed6"/><stop offset="0.5156" stop-color="#65aad4"/><stop offset="0.5312" stop-color="#60a7d2"/><stop offset="0.5469" stop-color="#5ba3d0"/><stop offset="0.5625" stop-color="#56a0ce"/><stop offset="0.5781" stop-color="#519ccc"/><stop offset="0.5938" stop-color="#4b98ca"/><stop offset="0.6094" stop-color="#4695c8"/><stop offset="0.6250" stop-color="#4191c6"/><stop offset="0.6406" stop-color="#3d8dc4"/><stop offset="0.6562" stop-color="#3989c1"/><stop offset="0.6719" stop-color="#3585bf"/><stop offset="0.6875" stop-color="#3181bd"/><stop offset="0.7031" stop-color="#2d7dbb"/><stop offset="0.7188" stop-color="#2979b9"/><stop offset="0.7344" stop-color="#2474b7"/><stop offset="0.7500" stop-color="#2070b4"/><stop offset="0.7656" stop-color="#1d6cb1"/><stop offset="0.7812" stop-color="#1a68ae"/><stop offset="0.7969" stop-color="#1764ab"/><stop offset="0.8125" stop-color="#1460a8"/><stop offset="0.8281" stop-color="#115ca5"/><stop offset="0.8438" stop-color="#0e58a2"/><stop offset="0.8594" stop-color="#0a549e"/><stop offset="0.8750" stop-color="#08509b"/><stop offset="0.8906" stop-color="#084c95"/><stop offset="0.9062" stop-color="#08488e"/><stop offset="0.9219" stop-color="#084488"/><stop offset="0.9375" stop-color="#084082"/><stop offset="0.9531" stop-color="#083b7c"/><stop offset="0.9688" stop-color="#083776"/><stop offset="0.9844" stop-color="#083370"/><stop offset="1.0000" stop-color="#08306b"/></linearGradient></defs><rect x="680" y="60" width="16" height="480" fill="url(#cb)"/><g fill="#000"><rect x="680" y="60" width="17" height="1"/><rect x="680" y="540" width="17" height="1"/><rect x="680" y="60" width="1" height="481"/><rect x="696" y="60" width="1" height="481"/><rect x="691" y="486" width="5" height="1" fill="#404040"/><rect x="691" y="432" width="5" height="1" fill="#404040"/><rect x="691" y="378" width="5" height="1" fill="#404040"/><rect x="691" y="324" width="5" height="1" fill="#404040"/><rect x="691" y="270" width="5" height="1" fill="#404040"/><rect x="691" y="216" width="5" height="1" fill="#404040"/><rect x="691" y="162" width="5" height="1" fill="#404040"/><rect x="691" y="108" width="5" height="1" fill="#404040"/></g></g><defs><path id="DejaVuSans-43" d="M 4122 4306 L 4122 3641 Q 3803 3938 3442 4084 Q 3081 4231 2675 4231 Q 1875 4231 1450 3742 Q 1025 3253 1025 2328 Q 1025 1406 1450 917 Q 1875 428 2675 428 Q 3081 428 3442 575 Q 3803 722 4122 1019 L 4122 359 Q 3791 134 3420 21 Q 3050 -91 2638 -91 Q 1578 -91 968 557 Q 359 1206 359 2328 Q 359 3453 968 4101 Q 1578 4750 2638 4750 Q 3056 4750 3426 4639 Q 3797 4528 4122 4306 z" transform="scale(0.015625)"/><path id="DejaVuSans-31" d="M 794 531 L 1825 531 L 1825 4091 L 703 3866 L 703 4441 L 1819 4666 L 2450 4666 L 2450 531 L 3481 531 L 3481 0 L 794 0 L 794 531 z" transform="scale(0.015625)"/><path id="DejaVuSans-27" d="M 1147 4666 L 1147 2931 L 616 2931 L 616 4666 L 1147 4666 z" transform="scale(0.015625)"/><path id="DejaVuSans-34" d="M 2419 4116 L 825 1625 L 2419 1625 L 2419 4116 z M 2253 4666 L 3047 4666 L 3047 1625 L 3713 1625 L 3713 1100 L 3047 1100 L 3047 0 L 2419 0 L 2419 1100 L 313 1100 L 313 1709 L 2253 4666 z" transform="scale(0.015625)"/><path id="DejaVuSans-4e" d="M 628 4666 L 1478 4666 L 3547 763 L 3547 4666 L 4159 4666 L 4159 0 L 3309 0 L 1241 3903 L 1241 0 L 628 0 L 628 4666 z" transform="scale(0.015625)"/><path id="DejaVuSans-33" d="M 2597 2516 Q 3050 2419 3304 2112 Q 3559 1806 3559 1356 Q 3559 666 3084 287 Q 2609 -91 1734 -91 Q 1441 -91 1130 -33 Q 819 25 488 141 L 488 750 Q 750 597 1062 519 Q 1375 441 1716 441 Q 2309 441 2620 675 Q 2931 909 2931 1356 Q 2931 1769 2642 2001 Q 2353 2234 1838 2234 L 1294 2234 L 1294 2753 L 1863 2753 Q 2328 2753 2575 2939 Q 2822 3125 2822 3475 Q 2822 3834 2567 4026 Q 2313 4219 1838 4219 Q 1578 4219 1281 4162 Q 984 4106 628 3988 L 628 4550 Q 988 4650 1302 4700 Q 1616 4750 1894 4750 Q 2613 4750 3031 4423 Q 3450 4097 3450 3541 Q 3450 3153 3228 2886 Q 3006 2619 2597 2516 z" transform="scale(0.015625)"/><path id="DejaVuSans-4f" d="M 2522 4238 Q 1834 4238 1429 3725 Q 1025 3213 1025 2328 Q 1025 1447 1429 934 Q 1834 422 2522 422 Q 3209 422 3611 934 Q 4013 1447 4013 2328 Q 4013 3213 3611 3725 Q 3209 4238 2522 4238 z M 2522 4750 Q 3503 4750 4090 4092 Q 4678 3434 4678 2328 Q 4678 1225 4090 567 Q 3503 -91 2522 -91 Q 1538 -91 948 565 Q 359 1222 359 2328 Q 359 3434 948 4092 Q 1538 4750 2522 4750 z" transform="scale(0.015625)"/><path id="DejaVuSans-32" d="M 1228 531 L 3431 531 L 3431 0 L 469 0 L 469 531 Q 828 903 1448 1529 Q 2069 2156 2228 2338 Q 2531 2678 2651 2914 Q 2772 3150 2772 3378 Q 2772 3750 2511 3984 Q 2250 4219 1831 4219 Q 1534 4219 1204 4116 Q 875 4013 500 3803 L 500 4441 Q 881 4594 1212 4672 Q 1544 4750 1819 4750 Q 2544 4750 2975 4387 Q 3406 4025 3406 3419 Q 3406 3131 3298 2873 Q 3191 2616 2906 2266 Q 2828 2175 2409 1742 Q 1991 1309 1228 531 z" transform="scale(0.015625)"/><path id="DejaVuSans-50" d="M 1259 4147 L 1259 2394 L 2053 2394 Q 2494 2394 2734 2622 Q 2975 2850 2975 3272 Q 2975 3691 2734 3919 Q 2494 4147 2053 4147 L 1259 4147 z M 628 4666 L 2053 4666 Q 2838 4666 3239 4311 Q 3641 3956 3641 3272 Q 3641 2581 3239 2228 Q 2838 1875 2053 1875 L 1259 1875 L 1259 0 L 628 0 L 628 4666 z" transform="scale(0.015625)"/><path id="DejaVuSans-30" d="M 2034 4250 Q 1547 4250 1301 3770 Q 1056 3291 1056 2328 Q 1056 1369 1301 889 Q 1547 409 2034 409 Q 2525 409 2770 889 Q 3016 1369 3016 2328 Q 3016 3291 2770 3770 Q 2525 4250 2034 4250 z M 2034 4750 Q 2819 4750 3233 4129 Q 3647 3509 3647 2328 Q 3647 1150 3233 529 Q 2819 -91 2034 -91 Q 1250 -91 836 529 Q 422 1150 422 2328 Q 422 3509 836 4129 Q 1250 4750 2034 4750 z" transform="scale(0.015625)"/><path id="DejaVuSans-2e" d="M 684 794 L 1344 794 L 1344 0 L 684 0 L 684 794 z" transform="scale(0.015625)"/><path id="DejaVuSans-35" d="M 691 4666 L 3169 4666 L 3169 4134 L 1269 4134 L 1269 2991 Q 1406 3038 1543 3061 Q 1681 3084 1819 3084 Q 2600 3084 3056 2656 Q 3513 2228 3513 1497 Q 3513 744 3044 326 Q 2575 -91 1722 -91 Q 1428 -91 1123 -41 Q 819 9 494 109 L 494 744 Q 775 591 1075 516 Q 1375 441 1709 441 Q 2250 441 2565 725 Q 2881 1009 2881 1497 Q 2881 1984 2565 2268 Q 2250 2553 1709 2553 Q 1456 2553 1204 2497 Q 953 2441 691 2322 L 691 4666 z" transform="scale(0.015625)"/></defs><g fill="#000"><g transform="translate(152.742 53.878) scale(0.166667 -0.166667)"><use href="#DejaVuSans-43"/><use href="#DejaVuSans-31" transform="translate(67.031 0)"/><use href="#DejaVuSans-27" transform="translate(128.109 0)"/></g><g transform="translate(208.556 53.878) scale(0.166667 -0.166667)"><use href="#DejaVuSans-43"/><use href="#DejaVuSans-34" transform="translate(67.031 0)"/><use href="#DejaVuSans-27" transform="translate(128.109 0)"/></g><g transform="translate(266.148 53.878) scale(0.166667 -0.166667)"><use href="#DejaVuSans-4e"/><use href="#DejaVuSans-33" transform="translate(71.813 0)"/></g><g transform="translate(319.458 53.878) scale(0.166667 -0.166667)"><use href="#DejaVuSans-4f"/><use href="#DejaVuSans-34" transform="translate(75.563 0)"/><use href="#DejaVuSans-27" transform="translate(136.641 0)"/></g><g transform="translate(375.998 53.878) scale(0.166667 -0.166667)"><use href="#DejaVuSans-43"/><use href="#DejaVuSans-31" transform="translate(67.031 0)"/><use href="#DejaVuSans-27" transform="translate(128.109 0)"/></g><g transform="translate(431.812 53.878) scale(0.166667 -0.166667)"><use href="#DejaVuSans-43"/><use href="#DejaVuSans-34" transform="translate(67.031 0)"/><use href="#DejaVuSans-27" transform="translate(128.109 0)"/></g><g transform="translate(489.403 53.878) scale(0.166667 -0.166667)"><use href="#DejaVuSans-4e"/><use href="#DejaVuSans-31" transform="translate(71.813 0)"/></g><g transform="translate(542.714 53.878) scale(0.166667 -0.166667)"><use href="#DejaVuSans-4f"/><use href="#DejaVuSans-32" transform="translate(75.563 0)"/><use href="#DejaVuSans-27" transform="translate(136.641 0)"/></g><g transform="translate(595.788 53.878) scale(0.166667 -0.166667)"><use href="#DejaVuSans-4f"/><use href="#DejaVuSans-50" transform="translate(75.563 0)"/><use href="#DejaVuSans-31" transform="translate(133.453 0)"/></g><g transform="translate(129.661 71.580) scale(0.166667 -0.166667)"><use href="#DejaVuSans-43"/><use href="#DejaVuSans-31" transform="translate(67.031 0)"/><use href="#DejaVuSans-27" transform="translate(128.109 0)"/></g><g transform="translate(129.661 127.394) scale(0.166667 -0.166667)"><use href="#DejaVuSans-43"/><use href="#DejaVuSans-34" transform="translate(67.031 0)"/><use href="#DejaVuSans-27" transform="translate(128.109 0)"/></g><g transform="translate(133.020 183.208) scale(0.166667 -0.166667)"><use href="#DejaVuSans-4e"/><use href="#DejaVuSans-33" transform="translate(71.813 0)"/></g><g transform="translate(128.239 239.022) scale(0.166667 -0.166667)"><use href="#DejaVuSans-4f"/><use href="#DejaVuSans-34" transform="translate(75.563 0)"/><use href="#DejaVuSans-27" transform="translate(136.641 0)"/></g><g transform="translate(129.661 294.836) scale(0.166667 -0.166667)"><use href="#DejaVuSans-43"/><use href="#DejaVuSans-31" transform="translate(67.031 0)"/><use href="#DejaVuSans-27" transform="translate(128.109 0)"/></g><g transform="translate(129.661 350.650) scale(0.166667 -0.166667)"><use href="#DejaVuSans-43"/><use href="#DejaVuSans-34" transform="translate(67.031 0)"/><use href="#DejaVuSans-27" transform="translate(128.109 0)"/></g><g transform="translate(133.020 406.464) scale(0.166667 -0.166667)"><use href="#DejaVuSans-4e"/><use href="#DejaVuSans-31" transform="translate(71.813 0)"/></g><g transform="translate(128.239 462.278) scale(0.166667 -0.166667)"><use href="#DejaVuSans-4f"/><use href="#DejaVuSans-32" transform="translate(75.563 0)"/><use href="#DejaVuSans-27" transform="translate(136.641 0)"/></g><g transform="translate(122.748 518.092) scale(0.166667 -0.166667)"><use href="#DejaVuSans-4f"/><use href="#DejaVuSans-50" transform="translate(75.563 0)"/><use href="#DejaVuSans-31" transform="translate(133.453 0)"/></g><g transform="translate(701.056 545.699) scale(0.166667 -0.166667)"><use href="#DejaVuSans-30"/><use href="#DejaVuSans-2e" transform="translate(61.078 0)"/><use href="#DejaVuSans-30" transform="translate(91.594 0)"/><use href="#DejaVuSans-30" transform="translate(152.672 0)"/></g><g transform="translate(701.056 491.766) scale(0.166667 -0.166667)"><use href="#DejaVuSans-30"/><use href="#DejaVuSans-2e" transform="translate(61.078 0)"/><use href="#DejaVuSans-30" transform="translate(91.594 0)"/><use href="#DejaVuSans-35" transform="translate(152.672 0)"/></g><g transform="translate(701.056 437.834) scale(0.166667 -0.166667)"><use href="#DejaVuSans-30"/><use href="#DejaVuSans-2e" transform="translate(61.078 0)"/><use href="#DejaVuSans-31" transform="translate(91.594 0)"/><use href="#DejaVuSans-30" transform="translate(152.672 0)"/></g><g transform="translate(701.056 383.901) scale(0.166667 -0.166667)"><use href="#DejaVuSans-30"/><use href="#DejaVuSans-2e" transform="translate(61.078 0)"/><use href="#DejaVuSans-31" transform="translate(91.594 0)"/><use href="#DejaVuSans-35" transform="translate(152.672 0)"/></g><g transform="translate(701.056 329.969) scale(0.166667 -0.166667)"><use href="#DejaVuSans-30"/><use href="#DejaVuSans-2e" transform="translate(61.078 0)"/><use href="#DejaVuSans-32" transform="translate(91.594 0)"/><use href="#DejaVuSans-30" transform="translate(152.672 0)"/></g><g transform="translate(701.056 276.036) scale(0.166667 -0.166667)"><use href="#DejaVuSans-30"/><use href="#DejaVuSans-2e" transform="translate(61.078 0)"/><use href="#DejaVuSans-32" transform="translate(91.594 0)"/><use href="#DejaVuSans-35" transform="translate(152.672 0)"/></g><g transform="translate(701.056 222.103) scale(0.166667 -0.166667)"><use href="#DejaVuSans-30"/><use href="#DejaVuSans-2e" transform="translate(61.078 0)"/><use href="#DejaVuSans-33" transform="translate(91.594 0)"/><use href="#DejaVuSans-30" transform="translate(152.672 0)"/></g><g transform="translate(701.056 168.171) scale(0.166667 -0.166667)"><use href="#DejaVuSans-30"/><use href="#DejaVuSans-2e" transform="translate(61.078 0)"/><use href="#DejaVuSans-33" transform="translate(91.594 0)"/><use href="#DejaVuSans-35" transform="translate(152.672 0)"/></g><g transform="translate(701.056 114.238) scale(0.166667 -0.166667)"><use href="#DejaVuSans-30"/><use href="#DejaVuSans-2e" transform="translate(61.078 0)"/><use href="#DejaVuSans-34" transform="translate(91.594 0)"/><use href="#DejaVuSans-30" transform="translate(152.672 0)"/></g></g></svg></body></html>
